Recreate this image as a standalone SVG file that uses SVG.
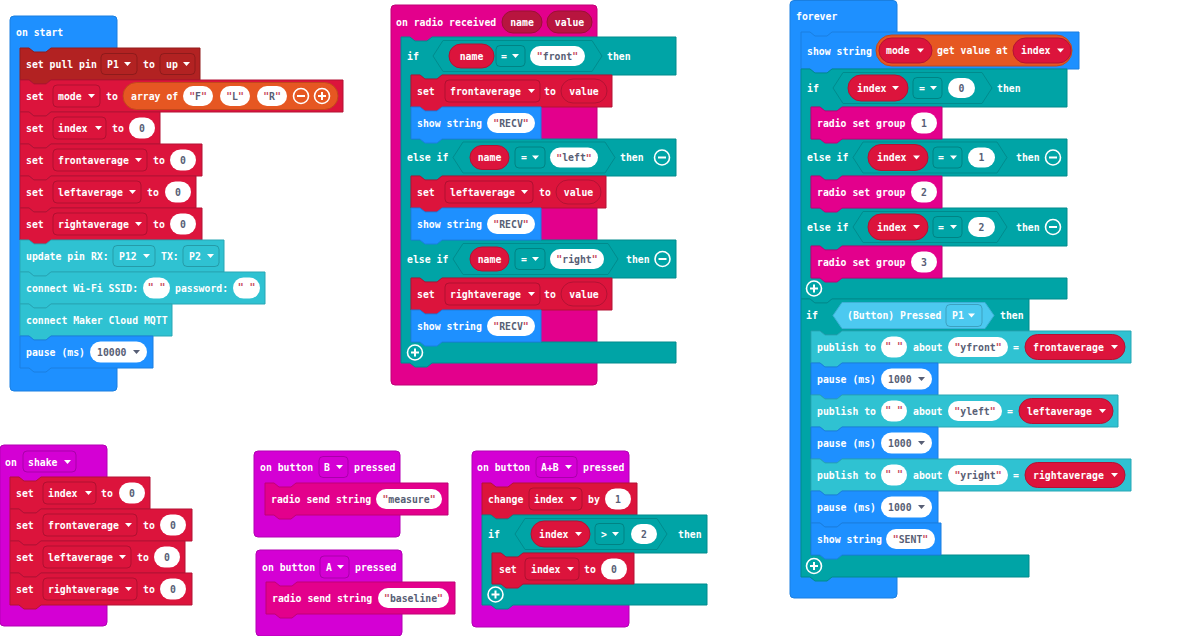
<svg xmlns="http://www.w3.org/2000/svg" width="1200" height="636" viewBox="0 0 1200 636">
<style>
.t{font-family:"DejaVu Sans Mono","Liberation Mono",monospace;font-weight:bold;font-size:9.8px;fill:#fff;dominant-baseline:central}
.c{text-anchor:middle}
.k{fill:#575e75}
.q{fill:#c8485c}
.pill{fill:#fff}
.dd{fill:none;stroke:rgba(0,0,0,0.2);stroke-width:1}
.blue{fill:#1e90ff;stroke:#1a7fe0}
.red{fill:#dc143c;stroke:#b31234}
.pin{fill:#b22222;stroke:#921c1c}
.org{fill:#e65722;stroke:#c2481b}
.teal{fill:#00a4a6;stroke:#008b8d}
.radio{fill:#e3008c;stroke:#c00077}
.inp{fill:#d400d4;stroke:#b300b3}
.cyan{fill:#2fc2d2;stroke:#28a7b5}
.lb{fill:#4cc9f0;stroke:#3eb0d6}
.par{fill:#b8153f;stroke:#9c1035}
</style>
<defs>
<path id="arr" d="M0,-2H7L3.5,2Z"/>
<g id="minus"><circle r="7.5" fill="none" stroke="#fff" stroke-width="1.6"/><path d="M-4,0H4" stroke="#fff" stroke-width="2"/></g>
<g id="plus"><circle r="7.5" fill="none" stroke="#fff" stroke-width="1.6"/><path d="M-4,0H4M0,-4V4" stroke="#fff" stroke-width="2"/></g>
</defs>
<rect width="1200" height="636" fill="#fff"/>

<!-- on start -->
<g id="on-start">
<rect class="blue" x="10" y="16" width="107" height="375" rx="4"/>
<text class="t" x="16" y="32.5">on start</text>
<g id="set-pull-pin">
<path class="pin" d="M20,48H29L34,52H46L51,48H200V80H51L46,84H34L29,80H20Z"/>
<text class="t" x="26" y="64">set pull pin</text>
<rect class="dd" x="101" y="53.5" width="36" height="21" rx="4"/>
<text class="t" x="107" y="64">P1</text><use href="#arr" x="124" y="64" fill="#fff"/>
<text class="t" x="143" y="64">to</text>
<rect class="dd" x="160" y="53.5" width="35" height="21" rx="4"/>
<text class="t" x="166" y="64">up</text><use href="#arr" x="183" y="64" fill="#fff"/>
</g>
<g id="set-mode">
<path class="red" d="M20,80H29L34,84H46L51,80H343V112H51L46,116H34L29,112H20Z"/>
<text class="t" x="26" y="96">set</text>
<rect class="dd" x="53" y="85" width="47" height="22" rx="4"/>
<text class="t" x="58" y="96">mode</text><use href="#arr" x="88" y="96" fill="#fff"/>
<text class="t" x="106" y="96">to</text>
<rect class="org" x="123" y="82.5" width="215" height="27" rx="13.5"/>
<text class="t" x="131" y="96">array of</text>
<rect class="pill" x="183" y="86" width="30" height="20" rx="10"/>
<text class="t c k" x="198" y="96"><tspan class="q">"</tspan>F<tspan class="q">"</tspan></text>
<rect class="pill" x="220" y="86" width="30" height="20" rx="10"/>
<text class="t c k" x="235" y="96"><tspan class="q">"</tspan>L<tspan class="q">"</tspan></text>
<rect class="pill" x="257" y="86" width="30" height="20" rx="10"/>
<text class="t c k" x="272" y="96"><tspan class="q">"</tspan>R<tspan class="q">"</tspan></text>
<use href="#minus" x="301" y="96"/>
<use href="#plus" x="322" y="96"/>
</g>
<g id="set-index">
<path class="red" d="M20,112H29L34,116H46L51,112H160V144H51L46,148H34L29,144H20Z"/>
<text class="t" x="26" y="128">set</text>
<rect class="dd" x="53" y="117" width="53" height="22" rx="4"/>
<text class="t" x="58" y="128">index</text><use href="#arr" x="95" y="128" fill="#fff"/>
<text class="t" x="112" y="128">to</text>
<rect class="pill" x="129" y="117.5" width="26" height="21" rx="10.5"/>
<text class="t c k" x="142" y="128">0</text>
</g>
<g id="set-frontaverage">
<path class="red" d="M20,144H29L34,148H46L51,144H202V176H51L46,180H34L29,176H20Z"/>
<text class="t" x="26" y="160">set</text>
<rect class="dd" x="53" y="149" width="94" height="22" rx="4"/>
<text class="t" x="58" y="160">frontaverage</text><use href="#arr" x="135" y="160" fill="#fff"/>
<text class="t" x="153" y="160">to</text>
<rect class="pill" x="170" y="149.5" width="26" height="21" rx="10.5"/>
<text class="t c k" x="183" y="160">0</text>
</g>
<g id="set-leftaverage">
<path class="red" d="M20,176H29L34,180H46L51,176H196V208H51L46,212H34L29,208H20Z"/>
<text class="t" x="26" y="192">set</text>
<rect class="dd" x="53" y="181" width="88" height="22" rx="4"/>
<text class="t" x="58" y="192">leftaverage</text><use href="#arr" x="129" y="192" fill="#fff"/>
<text class="t" x="147" y="192">to</text>
<rect class="pill" x="165" y="181.5" width="26" height="21" rx="10.5"/>
<text class="t c k" x="178" y="192">0</text>
</g>
<g id="set-rightaverage">
<path class="red" d="M20,208H29L34,212H46L51,208H202V240H51L46,244H34L29,240H20Z"/>
<text class="t" x="26" y="224">set</text>
<rect class="dd" x="53" y="213" width="94" height="22" rx="4"/>
<text class="t" x="58" y="224">rightaverage</text><use href="#arr" x="135" y="224" fill="#fff"/>
<text class="t" x="153" y="224">to</text>
<rect class="pill" x="170" y="213.5" width="26" height="21" rx="10.5"/>
<text class="t c k" x="183" y="224">0</text>
</g>
<g id="update-pin">
<path class="cyan" d="M20,240H29L34,244H46L51,240H224V272H51L46,276H34L29,272H20Z"/>
<text class="t" x="26" y="256">update pin RX:</text>
<rect class="dd" x="113" y="245.5" width="42" height="21" rx="4"/>
<text class="t" x="119" y="256">P12</text><use href="#arr" x="143" y="256" fill="#fff"/>
<text class="t" x="161" y="256">TX:</text>
<rect class="dd" x="183" y="245.5" width="36" height="21" rx="4"/>
<text class="t" x="189" y="256">P2</text><use href="#arr" x="207" y="256" fill="#fff"/>
</g>
<g id="connect-wifi">
<path class="cyan" d="M20,272H29L34,276H46L51,272H265V304H51L46,308H34L29,304H20Z"/>
<text class="t" x="26" y="288">connect Wi-Fi SSID:</text>
<rect class="pill" x="143" y="277.5" width="27" height="21" rx="10.5"/>
<text class="t c q" x="156.5" y="287">" "</text>
<text class="t" x="175" y="288">password:</text>
<rect class="pill" x="233" y="277.5" width="27" height="21" rx="10.5"/>
<text class="t c q" x="246.5" y="287">" "</text>
</g>
<g id="connect-mqtt">
<path class="cyan" d="M20,304H29L34,308H46L51,304H172V336H51L46,340H34L29,336H20Z"/>
<text class="t" x="26" y="320">connect Maker Cloud MQTT</text>
</g>
<g id="pause-10000">
<path class="blue" d="M20,336H29L34,340H46L51,336H153V368H51L46,372H34L29,368H20Z"/>
<text class="t" x="26" y="352">pause (ms)</text>
<rect class="pill" x="90" y="341.5" width="57" height="21" rx="10.5"/>
<text class="t k" x="97" y="352">10000</text><use href="#arr" x="133" y="352" fill="#575e75"/>
</g>
</g>

<!-- on radio received -->
<g id="on-radio-received">
<rect class="radio" x="391" y="5" width="206" height="380" rx="4"/>
<text class="t" x="396" y="22">on radio received</text>
<rect class="par" x="502" y="11" width="40" height="22" rx="11"/>
<text class="t c" x="522" y="22">name</text>
<rect class="par" x="547" y="11" width="45" height="22" rx="11"/>
<text class="t c" x="569.5" y="22">value</text>
<g id="radio-if">
<path class="teal" d="M401,37H410L415,41H427L432,37H676V75H442L437,79H425L420,75H411V139H676V176H442L437,180H425L420,176H411V240H676V278H442L437,282H425L420,278H411V342H676V363H432L427,367H415L410,363H401Z"/>
<text class="t" x="407" y="56">if</text>
<polygon class="teal" points="433,56 443,40.5 592,40.5 602,56 592,71.5 443,71.5"/>
<rect class="red" x="449" y="44" width="45" height="24" rx="12"/>
<text class="t c" x="471.5" y="56">name</text>
<rect class="dd" x="496" y="45.5" width="29" height="21" rx="4"/>
<text class="t" x="501" y="56">=</text><use href="#arr" x="512" y="56" fill="#fff"/>
<rect class="pill" x="530" y="46" width="55" height="20" rx="10"/>
<text class="t c k" x="557.5" y="56"><tspan class="q">"</tspan>front<tspan class="q">"</tspan></text>
<text class="t" x="607" y="56">then</text>

<text class="t" x="407" y="157.5">else if</text>
<polygon class="teal" points="453,157.5 463,142 605,142 615,157.5 605,173 463,173"/>
<rect class="red" x="470" y="145.5" width="39" height="24" rx="12"/>
<text class="t c" x="489.5" y="157.5">name</text>
<rect class="dd" x="515" y="147" width="30" height="21" rx="4"/>
<text class="t" x="521" y="157.5">=</text><use href="#arr" x="532" y="157.5" fill="#fff"/>
<rect class="pill" x="550" y="147.5" width="48" height="20" rx="10"/>
<text class="t c k" x="574" y="157.5"><tspan class="q">"</tspan>left<tspan class="q">"</tspan></text>
<text class="t" x="620" y="157.5">then</text>
<use href="#minus" x="662" y="157.5"/>

<text class="t" x="407" y="259">else if</text>
<polygon class="teal" points="453,259 463,243.5 608,243.5 618,259 608,274.5 463,274.5"/>
<rect class="red" x="470" y="247" width="39" height="24" rx="12"/>
<text class="t c" x="489.5" y="259">name</text>
<rect class="dd" x="515" y="248.5" width="30" height="21" rx="4"/>
<text class="t" x="521" y="259">=</text><use href="#arr" x="532" y="259" fill="#fff"/>
<rect class="pill" x="550" y="249" width="54" height="20" rx="10"/>
<text class="t c k" x="577" y="259"><tspan class="q">"</tspan>right<tspan class="q">"</tspan></text>
<text class="t" x="626" y="259">then</text>
<use href="#minus" x="662.5" y="259"/>
<use href="#plus" x="415" y="352.5"/>

<g id="radio-set-front">
<path class="red" d="M411,75H420L425,79H437L442,75H612V107H442L437,111H425L420,107H411Z"/>
<text class="t" x="417" y="91">set</text>
<rect class="dd" x="445" y="80" width="95" height="22" rx="4"/>
<text class="t" x="450" y="91">frontaverage</text><use href="#arr" x="528" y="91" fill="#fff"/>
<text class="t" x="544" y="91">to</text>
<rect class="red" x="561" y="79" width="46" height="24" rx="12"/>
<text class="t c" x="584" y="91">value</text>
</g>
<g id="radio-show-1">
<path class="blue" d="M411,107H420L425,111H437L442,107H541V139H442L437,143H425L420,139H411Z"/>
<text class="t" x="417" y="123">show string</text>
<rect class="pill" x="487" y="113" width="48" height="20" rx="10"/>
<text class="t c k" x="511" y="123"><tspan class="q">"</tspan>RECV<tspan class="q">"</tspan></text>
</g>
<g id="radio-set-left">
<path class="red" d="M411,176H420L425,180H437L442,176H606V208H442L437,212H425L420,208H411Z"/>
<text class="t" x="417" y="192">set</text>
<rect class="dd" x="445" y="181" width="88" height="22" rx="4"/>
<text class="t" x="450" y="192">leftaverage</text><use href="#arr" x="521" y="192" fill="#fff"/>
<text class="t" x="539" y="192">to</text>
<rect class="red" x="556" y="180" width="45" height="24" rx="12"/>
<text class="t c" x="578.5" y="192">value</text>
</g>
<g id="radio-show-2">
<path class="blue" d="M411,208H420L425,212H437L442,208H541V240H442L437,244H425L420,240H411Z"/>
<text class="t" x="417" y="224">show string</text>
<rect class="pill" x="487" y="214" width="48" height="20" rx="10"/>
<text class="t c k" x="511" y="224"><tspan class="q">"</tspan>RECV<tspan class="q">"</tspan></text>
</g>
<g id="radio-set-right">
<path class="red" d="M411,278H420L425,282H437L442,278H612V310H442L437,314H425L420,310H411Z"/>
<text class="t" x="417" y="294">set</text>
<rect class="dd" x="445" y="283" width="95" height="22" rx="4"/>
<text class="t" x="450" y="294">rightaverage</text><use href="#arr" x="528" y="294" fill="#fff"/>
<text class="t" x="544" y="294">to</text>
<rect class="red" x="561" y="282" width="46" height="24" rx="12"/>
<text class="t c" x="584" y="294">value</text>
</g>
<g id="radio-show-3">
<path class="blue" d="M411,310H420L425,314H437L442,310H541V342H442L437,346H425L420,342H411Z"/>
<text class="t" x="417" y="326">show string</text>
<rect class="pill" x="487" y="316" width="48" height="20" rx="10"/>
<text class="t c k" x="511" y="326"><tspan class="q">"</tspan>RECV<tspan class="q">"</tspan></text>
</g>
</g>
</g>

<!-- forever -->
<g id="forever">
<rect class="blue" x="790" y="0.5" width="107" height="597.5" rx="4"/>
<text class="t" x="796" y="16">forever</text>
<g id="show-mode">
<path class="blue" d="M801,32H810L815,36H827L832,32H1079V69H832L827,73H815L810,69H801Z"/>
<text class="t" x="807" y="51">show string</text>
<rect class="org" x="876" y="35" width="196" height="31" rx="15.5"/>
<rect class="red" x="879" y="38" width="53" height="25" rx="12.5"/>
<text class="t" x="886" y="50.5">mode</text><use href="#arr" x="917" y="50.5" fill="#fff"/>
<text class="t" x="937" y="50.5">get value at</text>
<rect class="red" x="1013" y="38" width="58" height="25" rx="12.5"/>
<text class="t" x="1021" y="50.5">index</text><use href="#arr" x="1057" y="50.5" fill="#fff"/>
</g>
<g id="forever-if-index">
<path class="teal" d="M801,69H810L815,73H827L832,69H1067V107H842L837,111H825L820,107H811V139H1067V176H842L837,180H825L820,176H811V208H1067V246H842L837,250H825L820,246H811V278H1067V299H832L827,303H815L810,299H801Z"/>
<text class="t" x="807" y="88">if</text>
<polygon class="teal" points="833,88 843,72.5 982,72.5 992,88 982,103.5 843,103.5"/>
<rect class="red" x="848" y="75" width="60" height="26" rx="13"/>
<text class="t" x="857" y="88">index</text><use href="#arr" x="892" y="88" fill="#fff"/>
<rect class="dd" x="913" y="77.5" width="29" height="21" rx="4"/>
<text class="t" x="919" y="88">=</text><use href="#arr" x="930" y="88" fill="#fff"/>
<rect class="pill" x="948" y="78" width="27" height="20" rx="10"/>
<text class="t c k" x="961.5" y="88">0</text>
<text class="t" x="997" y="88">then</text>

<text class="t" x="807" y="157.5">else if</text>
<polygon class="teal" points="853,157.5 863,142 997,142 1007,157.5 997,173 863,173"/>
<rect class="red" x="868" y="144.5" width="60" height="26" rx="13"/>
<text class="t" x="877" y="157.5">index</text><use href="#arr" x="913" y="157.5" fill="#fff"/>
<rect class="dd" x="933" y="147" width="29" height="21" rx="4"/>
<text class="t" x="938" y="157.5">=</text><use href="#arr" x="950" y="157.5" fill="#fff"/>
<rect class="pill" x="968" y="147.5" width="27" height="20" rx="10"/>
<text class="t c k" x="981.5" y="157.5">1</text>
<text class="t" x="1016" y="157.5">then</text>
<use href="#minus" x="1053" y="157.5"/>

<text class="t" x="807" y="227">else if</text>
<polygon class="teal" points="853,227 863,211.5 997,211.5 1007,227 997,242.5 863,242.5"/>
<rect class="red" x="868" y="214" width="60" height="26" rx="13"/>
<text class="t" x="877" y="227">index</text><use href="#arr" x="913" y="227" fill="#fff"/>
<rect class="dd" x="933" y="216.5" width="29" height="21" rx="4"/>
<text class="t" x="938" y="227">=</text><use href="#arr" x="950" y="227" fill="#fff"/>
<rect class="pill" x="968" y="217" width="27" height="20" rx="10"/>
<text class="t c k" x="981.5" y="227">2</text>
<text class="t" x="1016" y="227">then</text>
<use href="#minus" x="1053" y="227"/>
<use href="#plus" x="814" y="288.5"/>

<g id="radio-group-1">
<path class="radio" d="M811,107H820L825,111H837L842,107H942V139H842L837,143H825L820,139H811Z"/>
<text class="t" x="817" y="123">radio set group</text>
<rect class="pill" x="911" y="112.5" width="26" height="21" rx="10.5"/>
<text class="t c k" x="924" y="123">1</text>
</g>
<g id="radio-group-2">
<path class="radio" d="M811,176H820L825,180H837L842,176H942V208H842L837,212H825L820,208H811Z"/>
<text class="t" x="817" y="192">radio set group</text>
<rect class="pill" x="911" y="181.5" width="26" height="21" rx="10.5"/>
<text class="t c k" x="924" y="192">2</text>
</g>
<g id="radio-group-3">
<path class="radio" d="M811,246H820L825,250H837L842,246H942V278H842L837,282H825L820,278H811Z"/>
<text class="t" x="817" y="262">radio set group</text>
<rect class="pill" x="911" y="251.5" width="26" height="21" rx="10.5"/>
<text class="t c k" x="924" y="262">3</text>
</g>
</g>
<g id="forever-if-button">
<path class="teal" d="M801,299H810L815,303H827L832,299H1029V331H842L837,335H825L820,331H811V555H1029V577H832L827,581H815L810,577H801Z"/>
<text class="t" x="806" y="315">if</text>
<polygon class="lb" points="833,315.5 842,302.5 985,302.5 994,315.5 985,328.5 842,328.5"/>
<text class="t" x="847" y="315.5">(Button) Pressed</text>
<rect class="dd" x="946" y="304.5" width="36" height="22" rx="4"/>
<text class="t" x="952" y="315.5">P1</text><use href="#arr" x="968" y="315.5" fill="#fff"/>
<text class="t" x="1000" y="315">then</text>
<use href="#plus" x="814" y="566"/>

<g id="publish-yfront">
<path class="cyan" d="M811,331H820L825,335H837L842,331H1131V363H842L837,367H825L820,363H811Z"/>
<text class="t" x="817" y="347">publish to</text>
<rect class="pill" x="881" y="336.5" width="26" height="21" rx="10.5"/>
<text class="t c q" x="894" y="346">" "</text>
<text class="t" x="913" y="347">about</text>
<rect class="pill" x="948" y="337" width="60" height="20" rx="10"/>
<text class="t c k" x="978" y="347"><tspan class="q">"</tspan>yfront<tspan class="q">"</tspan></text>
<text class="t" x="1013" y="347">=</text>
<rect class="red" x="1025" y="334.5" width="100" height="25" rx="12.5"/>
<text class="t" x="1033" y="347">frontaverage</text><use href="#arr" x="1111" y="347" fill="#fff"/>
</g>
<g id="pause-1">
<path class="blue" d="M811,363H820L825,367H837L842,363H938V395H842L837,399H825L820,395H811Z"/>
<text class="t" x="817" y="379">pause (ms)</text>
<rect class="pill" x="881" y="368.5" width="51" height="21" rx="10.5"/>
<text class="t k" x="888" y="379">1000</text><use href="#arr" x="918" y="379" fill="#575e75"/>
</g>
<g id="publish-yleft">
<path class="cyan" d="M811,395H820L825,399H837L842,395H1118V427H842L837,431H825L820,427H811Z"/>
<text class="t" x="817" y="411">publish to</text>
<rect class="pill" x="881" y="400.5" width="26" height="21" rx="10.5"/>
<text class="t c q" x="894" y="410">" "</text>
<text class="t" x="913" y="411">about</text>
<rect class="pill" x="948" y="401" width="54" height="20" rx="10"/>
<text class="t c k" x="975" y="411"><tspan class="q">"</tspan>yleft<tspan class="q">"</tspan></text>
<text class="t" x="1007" y="411">=</text>
<rect class="red" x="1019" y="398.5" width="94" height="25" rx="12.5"/>
<text class="t" x="1027" y="411">leftaverage</text><use href="#arr" x="1099" y="411" fill="#fff"/>
</g>
<g id="pause-2">
<path class="blue" d="M811,427H820L825,431H837L842,427H938V459H842L837,463H825L820,459H811Z"/>
<text class="t" x="817" y="443">pause (ms)</text>
<rect class="pill" x="881" y="432.5" width="51" height="21" rx="10.5"/>
<text class="t k" x="888" y="443">1000</text><use href="#arr" x="918" y="443" fill="#575e75"/>
</g>
<g id="publish-yright">
<path class="cyan" d="M811,459H820L825,463H837L842,459H1131V491H842L837,495H825L820,491H811Z"/>
<text class="t" x="817" y="475">publish to</text>
<rect class="pill" x="881" y="464.5" width="26" height="21" rx="10.5"/>
<text class="t c q" x="894" y="474">" "</text>
<text class="t" x="913" y="475">about</text>
<rect class="pill" x="948" y="465" width="60" height="20" rx="10"/>
<text class="t c k" x="978" y="475"><tspan class="q">"</tspan>yright<tspan class="q">"</tspan></text>
<text class="t" x="1013" y="475">=</text>
<rect class="red" x="1025" y="462.5" width="100" height="25" rx="12.5"/>
<text class="t" x="1033" y="475">rightaverage</text><use href="#arr" x="1111" y="475" fill="#fff"/>
</g>
<g id="pause-3">
<path class="blue" d="M811,491H820L825,495H837L842,491H938V523H842L837,527H825L820,523H811Z"/>
<text class="t" x="817" y="507">pause (ms)</text>
<rect class="pill" x="881" y="496.5" width="51" height="21" rx="10.5"/>
<text class="t k" x="888" y="507">1000</text><use href="#arr" x="918" y="507" fill="#575e75"/>
</g>
<g id="show-sent">
<path class="blue" d="M811,523H820L825,527H837L842,523H941V555H842L837,559H825L820,555H811Z"/>
<text class="t" x="817" y="539">show string</text>
<rect class="pill" x="886" y="529" width="49" height="20" rx="10"/>
<text class="t c k" x="910.5" y="539"><tspan class="q">"</tspan>SENT<tspan class="q">"</tspan></text>
</g>
</g>
</g>

<!-- on shake -->
<g id="on-shake">
<rect class="inp" x="0" y="445" width="107" height="181" rx="4"/>
<text class="t" x="5" y="462">on</text>
<rect class="dd" x="23" y="451" width="53" height="21" rx="4"/>
<text class="t" x="28" y="462">shake</text><use href="#arr" x="64" y="462" fill="#fff"/>
<g id="shake-set-index">
<path class="red" d="M10,477H19L24,481H36L41,477H150V509H41L36,513H24L19,509H10Z"/>
<text class="t" x="16" y="493">set</text>
<rect class="dd" x="43" y="482" width="53" height="22" rx="4"/>
<text class="t" x="48" y="493">index</text><use href="#arr" x="85" y="493" fill="#fff"/>
<text class="t" x="101" y="493">to</text>
<rect class="pill" x="119" y="482.5" width="26" height="21" rx="10.5"/>
<text class="t c k" x="132" y="493">0</text>
</g>
<g id="shake-set-front">
<path class="red" d="M10,509H19L24,513H36L41,509H192V541H41L36,545H24L19,541H10Z"/>
<text class="t" x="16" y="525">set</text>
<rect class="dd" x="43" y="514" width="94" height="22" rx="4"/>
<text class="t" x="48" y="525">frontaverage</text><use href="#arr" x="125" y="525" fill="#fff"/>
<text class="t" x="143" y="525">to</text>
<rect class="pill" x="160" y="514.5" width="26" height="21" rx="10.5"/>
<text class="t c k" x="173" y="525">0</text>
</g>
<g id="shake-set-left">
<path class="red" d="M10,541H19L24,545H36L41,541H185V573H41L36,577H24L19,573H10Z"/>
<text class="t" x="16" y="557">set</text>
<rect class="dd" x="43" y="546" width="88" height="22" rx="4"/>
<text class="t" x="48" y="557">leftaverage</text><use href="#arr" x="119" y="557" fill="#fff"/>
<text class="t" x="137" y="557">to</text>
<rect class="pill" x="154" y="546.5" width="26" height="21" rx="10.5"/>
<text class="t c k" x="167" y="557">0</text>
</g>
<g id="shake-set-right">
<path class="red" d="M10,573H19L24,577H36L41,573H192V605H41L36,609H24L19,605H10Z"/>
<text class="t" x="16" y="589">set</text>
<rect class="dd" x="43" y="578" width="94" height="22" rx="4"/>
<text class="t" x="48" y="589">rightaverage</text><use href="#arr" x="125" y="589" fill="#fff"/>
<text class="t" x="143" y="589">to</text>
<rect class="pill" x="160" y="578.5" width="26" height="21" rx="10.5"/>
<text class="t c k" x="173" y="589">0</text>
</g>
</g>

<!-- on button B -->
<g id="on-button-b">
<rect class="inp" x="254" y="451" width="146" height="86" rx="4"/>
<text class="t" x="260" y="467">on button</text>
<rect class="dd" x="319" y="456.5" width="29" height="21" rx="4"/>
<text class="t" x="324" y="467">B</text><use href="#arr" x="336" y="467" fill="#fff"/>
<text class="t" x="354" y="467">pressed</text>
<g id="send-measure">
<path class="radio" d="M265,483H274L279,487H291L296,483H448V515H296L291,519H279L274,515H265Z"/>
<text class="t" x="271" y="499">radio send string</text>
<rect class="pill" x="376" y="489" width="66" height="20" rx="10"/>
<text class="t c k" x="409" y="499"><tspan class="q">"</tspan>measure<tspan class="q">"</tspan></text>
</g>
</g>

<!-- on button A -->
<g id="on-button-a">
<rect class="inp" x="256" y="550" width="146" height="86" rx="4"/>
<text class="t" x="262" y="567">on button</text>
<rect class="dd" x="320" y="556" width="29" height="22" rx="4"/>
<text class="t" x="326" y="567">A</text><use href="#arr" x="337" y="567" fill="#fff"/>
<text class="t" x="355" y="567">pressed</text>
<g id="send-baseline">
<path class="radio" d="M266,582H275L280,586H292L297,582H455V614H297L292,618H280L275,614H266Z"/>
<text class="t" x="272" y="598">radio send string</text>
<rect class="pill" x="378" y="588" width="71" height="20" rx="10"/>
<text class="t c k" x="413.5" y="598"><tspan class="q">"</tspan>baseline<tspan class="q">"</tspan></text>
</g>
</g>

<!-- on button A+B -->
<g id="on-button-ab">
<rect class="inp" x="472" y="451" width="157" height="176" rx="4"/>
<text class="t" x="477" y="467">on button</text>
<rect class="dd" x="536" y="456.5" width="41" height="21" rx="4"/>
<text class="t" x="541" y="467">A+B</text><use href="#arr" x="565" y="467" fill="#fff"/>
<text class="t" x="583" y="467">pressed</text>
<g id="change-index">
<path class="red" d="M482,483H491L496,487H508L513,483H637V515H513L508,519H496L491,515H482Z"/>
<text class="t" x="488" y="499">change</text>
<rect class="dd" x="529" y="488" width="53" height="22" rx="4"/>
<text class="t" x="534" y="499">index</text><use href="#arr" x="570" y="499" fill="#fff"/>
<text class="t" x="588" y="499">by</text>
<rect class="pill" x="605" y="488.5" width="26" height="21" rx="10.5"/>
<text class="t c k" x="618" y="499">1</text>
</g>
<g id="ab-if">
<path class="teal" d="M482,515H491L496,519H508L513,515H707V553H523L518,557H506L501,553H492V584H707V605H513L508,609H496L491,605H482Z"/>
<text class="t" x="488" y="534">if</text>
<polygon class="teal" points="515,534 525,518.5 657,518.5 667,534 657,549.5 525,549.5"/>
<rect class="red" x="531" y="521" width="59" height="26" rx="13"/>
<text class="t" x="539" y="534">index</text><use href="#arr" x="575" y="534" fill="#fff"/>
<rect class="dd" x="595" y="523.5" width="29" height="21" rx="4"/>
<text class="t" x="601" y="534">&gt;</text><use href="#arr" x="612" y="534" fill="#fff"/>
<rect class="pill" x="631" y="524" width="26" height="20" rx="10"/>
<text class="t c k" x="644" y="534">2</text>
<text class="t" x="678" y="534">then</text>
<use href="#plus" x="495.5" y="594.5"/>
<g id="ab-set-index">
<path class="red" d="M492,553H501L506,557H518L523,553H634V584H523L518,588H506L501,584H492Z"/>
<text class="t" x="499" y="569">set</text>
<rect class="dd" x="525" y="558" width="54" height="22" rx="4"/>
<text class="t" x="531" y="569">index</text><use href="#arr" x="567" y="569" fill="#fff"/>
<text class="t" x="584" y="569">to</text>
<rect class="pill" x="601" y="558.5" width="26" height="21" rx="10.5"/>
<text class="t c k" x="614" y="569">0</text>
</g>
</g>
</g>
</svg>
